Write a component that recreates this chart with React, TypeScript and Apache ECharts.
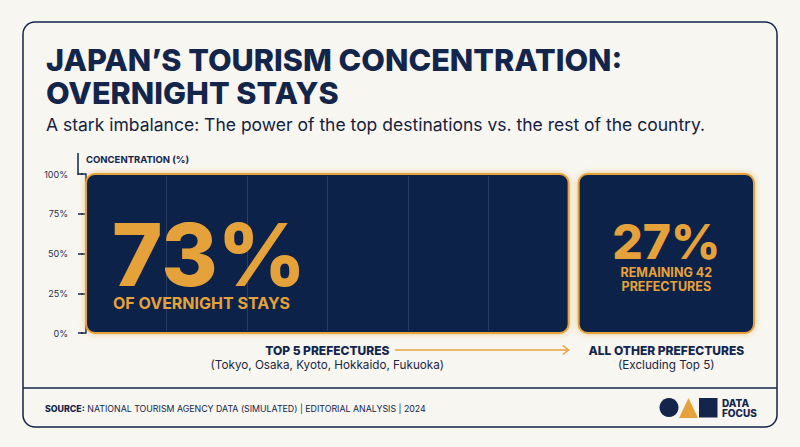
import React, { useEffect, useRef } from "react";
import * as echarts from "echarts";

const categories = ["TOP 5 PREFECTURES", "ALL OTHER PREFECTURES"];
const subLabels = ["(Tokyo, Osaka, Kyoto, Hokkaido, Fukuoka)", "(Excluding Top 5)"];
const shares = [73, 27];
const barCaptions = ["OF OVERNIGHT STAYS", "REMAINING 42\nPREFECTURES"];
const yTicks = [0, 25, 50, 75, 100];

const NAVY = "#13254b";
const BAR = "#11244a";
const ORANGE = "#e5a23b";
const BG = "#f7f6f1";
const FONT = "Inter, 'Noto Sans', sans-serif";

export default function App() {
  const ref = useRef<HTMLDivElement>(null);
  useEffect(() => {
    if (!ref.current) return;
    const chart = echarts.init(ref.current, undefined, { renderer: "svg" });
    let acc = 0;
    const data = shares.map((s, i) => {
      const d = [acc, acc + s, i, s];
      acc += s;
      return d;
    });
    const yMax = yTicks[yTicks.length - 1];
    const yStep = yTicks[1] - yTicks[0];

    const renderItem = (params: any, api: any) => {
      const start = api.value(0);
      const end = api.value(1);
      const idx = api.value(2);
      const share = api.value(3);
      const tl = api.coord([start, yMax]);
      const br = api.coord([end, 0]);
      const half = 5;
      const x0 = tl[0] + (start > 0 ? half : 0);
      const x1 = br[0] - (end < 100 ? half : 0);
      const y0 = tl[1];
      const y1 = br[1];
      const w = x1 - x0;
      const h = y1 - y0;
      const children: any[] = [];
      children.push({
        type: "rect",
        shape: { x: x0, y: y0, width: w, height: h, r: 9 },
        style: {
          fill: BAR,
          stroke: ORANGE,
          lineWidth: 2,
          shadowBlur: 6,
          shadowColor: "rgba(229,162,59,0.55)",
        },
      });
      if (idx === 0) {
        for (let k = 1; k < 6; k++) {
          const xx = Math.round(x0 + (w * k) / 6) + 0.5;
          children.push({
            type: "line",
            shape: { x1: xx, y1: y0 + 2, x2: xx, y2: y1 - 2 },
            style: { stroke: "rgba(150,170,210,0.2)", lineWidth: 1 },
          });
        }
      }
      children.push({
        type: "line",
        shape: { x1: x0 + 9, y1: y0 + 10, x2: x1 - 9, y2: y0 + 10 },
        style: {
          stroke: ORANGE,
          lineWidth: 2.5,
          shadowBlur: 4,
          shadowColor: "rgba(229,162,59,0.6)",
        },
      });
      const caps = barCaptions[idx].split("\n");
      if (idx === 0) {
        children.push({
          type: "text",
          x: x0 + 26,
          y: y0 + 81,
          style: {
            text: share + "%",
            fill: ORANGE,
            fontSize: 86,
            lineHeight: 70,
            fontWeight: 800,
            fontFamily: FONT,
            align: "left",
            verticalAlign: "middle",
          },
        });
        children.push({
          type: "text",
          x: x0 + 27,
          y: y0 + 128.5,
          style: {
            text: caps[0],
            fill: ORANGE,
            fontSize: 16,
            lineHeight: 16,
            fontWeight: 700,
            fontFamily: FONT,
            align: "left",
            verticalAlign: "middle",
          },
        });
        const ay = y1 + 17;
        const ax0 = x0 + w * 0.64;
        children.push({
          type: "line",
          shape: { x1: ax0, y1: ay, x2: x1, y2: ay },
          style: { stroke: ORANGE, lineWidth: 1.5 },
        });
        children.push({
          type: "polyline",
          shape: { points: [[x1 - 6, ay - 4.5], [x1, ay], [x1 - 6, ay + 4.5]] },
          style: { stroke: ORANGE, lineWidth: 1.5, fill: "none" },
        });
      } else {
        const cx = x0 + w / 2;
        children.push({
          type: "text",
          x: cx,
          y: y0 + 67.5,
          style: {
            text: share + "%",
            fill: ORANGE,
            fontSize: 48,
            lineHeight: 38,
            fontWeight: 800,
            fontFamily: FONT,
            align: "center",
            verticalAlign: "middle",
          },
        });
        caps.forEach((c, j) => {
          children.push({
            type: "text",
            x: cx,
            y: y0 + 98.5 + j * 14,
            style: {
              text: c,
              fill: ORANGE,
              fontSize: 12.5,
              lineHeight: 13,
              fontWeight: 700,
              fontFamily: FONT,
              align: "center",
              verticalAlign: "middle",
            },
          });
        });
      }
      const cx = x0 + w / 2;
      children.push({
        type: "text",
        x: cx,
        y: y1 + 17,
        style: {
          text: categories[idx],
          fill: NAVY,
          fontSize: 12,
          fontWeight: 800,
          fontFamily: FONT,
          align: "center",
          verticalAlign: "middle",
        },
      });
      children.push({
        type: "text",
        x: cx,
        y: y1 + 32,
        style: {
          text: subLabels[idx],
          fill: "#1d2740",
          fontSize: 11.7,
          fontWeight: 400,
          fontFamily: FONT,
          align: "center",
          verticalAlign: "middle",
        },
      });
      return { type: "group", children };
    };

    const tickCommon = { color: NAVY, width: 1.5 };
    chart.setOption({
      animation: false,
      backgroundColor: BG,
      grid: { left: 86, right: 46, top: 174, bottom: 114 },
      xAxis: { type: "value", min: 0, max: 100, show: false },
      yAxis: [
        {
          type: "value",
          min: yTicks[0],
          max: yMax,
          interval: yStep,
          offset: 8,
          axisLine: { show: true, lineStyle: tickCommon },
          axisTick: { show: true, length: 5, lineStyle: tickCommon },
          axisLabel: {
            formatter: "{value}%",
            color: "#25304d",
            fontSize: 9,
            margin: 10,
            fontFamily: FONT,
          },
          splitLine: { show: false },
        },
        {
          type: "value",
          min: yTicks[0],
          max: yMax,
          interval: yStep,
          position: "left",
          offset: 8,
          axisLine: { show: false },
          axisTick: { show: true, inside: true, length: 5, lineStyle: tickCommon },
          axisLabel: { show: false },
          splitLine: { show: false },
        },
      ],
      series: [
        {
          type: "custom",
          renderItem,
          data,
          encode: { x: [0, 1], y: 3 },
          clip: false,
        },
      ],
      graphic: [
        {
          type: "rect",
          shape: { x: 23, y: 22, width: 754, height: 405, r: 12 },
          style: { fill: "none", stroke: NAVY, lineWidth: 1.5 },
          z: -1,
        },
        {
          type: "line",
          shape: { x1: 23, y1: 388, x2: 777, y2: 388 },
          style: { stroke: NAVY, lineWidth: 1.5 },
        },
        {
          type: "text",
          x: 46,
          y: 59.5,
          style: {
            text: "JAPAN’S TOURISM CONCENTRATION:",
            fill: NAVY,
            fontSize: 30.6,
            fontWeight: 800,
            fontFamily: FONT,
            verticalAlign: "middle",
          },
        },
        {
          type: "text",
          x: 46,
          y: 92,
          style: {
            text: "OVERNIGHT STAYS",
            fill: NAVY,
            fontSize: 30.6,
            fontWeight: 800,
            fontFamily: FONT,
            verticalAlign: "middle",
          },
        },
        {
          type: "text",
          x: 46,
          y: 124.5,
          style: {
            text: "A stark imbalance: The power of the top destinations vs. the rest of the country.",
            fill: "#16213d",
            fontSize: 17.5,
            fontWeight: 400,
            fontFamily: FONT,
            verticalAlign: "middle",
          },
        },
        {
          type: "line",
          shape: { x1: 78, y1: 153, x2: 78, y2: 175 },
          style: { stroke: NAVY, lineWidth: 1.5 },
        },
        {
          type: "text",
          x: 86,
          y: 159,
          style: {
            text: "CONCENTRATION (%)",
            fill: NAVY,
            fontSize: 9.5,
            fontWeight: 700,
            fontFamily: FONT,
            verticalAlign: "middle",
          },
        },
        {
          type: "text",
          x: 45,
          y: 408,
          style: {
            text: "{b|SOURCE:} NATIONAL TOURISM AGENCY DATA (SIMULATED) | EDITORIAL ANALYSIS | 2024",
            fill: NAVY,
            fontSize: 8.8,
            fontFamily: FONT,
            verticalAlign: "middle",
            rich: {
              b: { fontWeight: 800, fontSize: 8.8, fontFamily: FONT, fill: NAVY },
            },
          },
        },
        {
          type: "circle",
          shape: { cx: 669, cy: 407.5, r: 9.5 },
          style: { fill: NAVY },
        },
        {
          type: "polygon",
          shape: { points: [[679, 418], [688.5, 398], [698, 418]] },
          style: { fill: ORANGE },
        },
        {
          type: "rect",
          shape: { x: 699, y: 398, width: 18.5, height: 19.5 },
          style: { fill: NAVY },
        },
        {
          type: "text",
          x: 722,
          y: 402.5,
          style: {
            text: "DATA",
            fill: NAVY,
            fontSize: 10,
            fontWeight: 800,
            fontFamily: FONT,
            verticalAlign: "middle",
          },
        },
        {
          type: "text",
          x: 722,
          y: 413,
          style: {
            text: "FOCUS",
            fill: NAVY,
            fontSize: 10,
            fontWeight: 800,
            fontFamily: FONT,
            verticalAlign: "middle",
          },
        },
      ],
    });
    return () => chart.dispose();
  }, []);
  return (
    <div
      ref={ref}
      style={{ position: "fixed", left: 0, top: 0, width: 800, height: 447 }}
    />
  );
}
